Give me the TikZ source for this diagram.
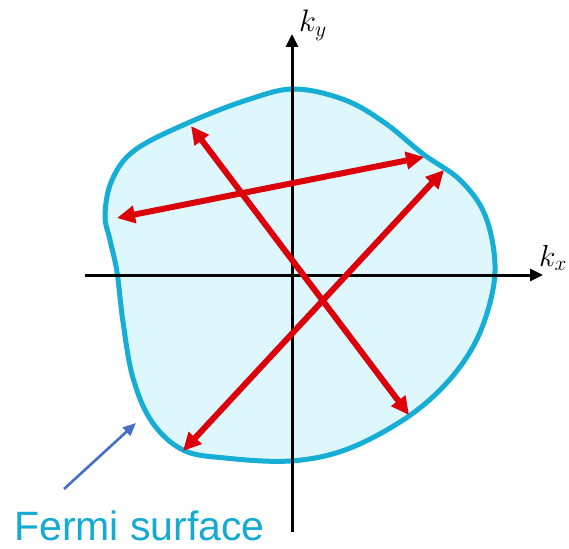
\documentclass[tikz,border=0pt]{standalone}
\usepackage{fontspec}
\setmainfont{Liberation Sans}
\usepackage{graphicx}
\usetikzlibrary{arrows.meta}
\definecolor{fscyan}{RGB}{22,174,212}
\definecolor{fsfill}{RGB}{222,247,252}
\definecolor{scred}{RGB}{220,0,10}
\definecolor{lblue}{RGB}{70,110,200}
\definecolor{txtcyan}{RGB}{20,170,210}
\tikzset{
  axis/.style={line width=3pt,-{Triangle[length=13pt,width=12pt]}},
  scatter/.style={line width=6pt,scred,{Triangle[length=18pt,width=17pt]}-{Triangle[length=18pt,width=17pt]}},
  fs/.style={line width=5pt,fscyan,fill=fsfill},
  pointer/.style={line width=2.6pt,lblue,-{Triangle[length=13pt,width=11pt]}}
}
\begin{document}
\begin{tikzpicture}[x=1pt,y=-1pt]
\useasboundingbox (0,0) rectangle (569,548);
% Fermi surface
\draw[fs] plot[smooth cycle,tension=0.6] coordinates {
 (105,215) (112,180) (135,150) (190,122) (250,99) (295,89) (345,100)
 (385,123) (423,154) (460,180) (485,215) (495,265) (488,310) (470,352)
 (440,390) (400,422) (345,450) (290,461) (225,458) (183,450) (152,422)
 (133,378) (123,322) (117,272) (110,240)};
% axes
\coordinate (xs) at (85,275);
\coordinate (xe) at (543,275);
\coordinate (ys) at (292,532);
\coordinate (ye) at (292,34);
\draw[axis] (xs) -- (xe);
\draw[axis] (ys) -- (ye);
\node[anchor=base west,inner sep=0pt] (kx) at (539,266) {\fontsize{24}{29}\selectfont\scalebox{1.22}{$k_x$}};
\node[anchor=base west,inner sep=0pt] (ky) at (299,32) {\fontsize{24}{29}\selectfont\scalebox{1.25}{$k_y$}};
% scattering arrows
\coordinate (a1) at (117,218);
\coordinate (b1) at (424,157);
\coordinate (a2) at (191,126);
\coordinate (b2) at (409,415);
\coordinate (a3) at (183,451);
\coordinate (b3) at (444,170);
\draw[scatter] (a1) -- (b1);
\draw[scatter] (a2) -- (b2);
\draw[scatter] (a3) -- (b3);
% label
\node[anchor=base west,inner sep=0pt,text=txtcyan] (lbl) at (14,540) {\fontsize{41}{48}\selectfont Fermi surface};
\coordinate (p1) at (64,489);
\coordinate (p2) at (136,423);
\draw[pointer] (p1) -- (p2);
\end{tikzpicture}
\end{document}
